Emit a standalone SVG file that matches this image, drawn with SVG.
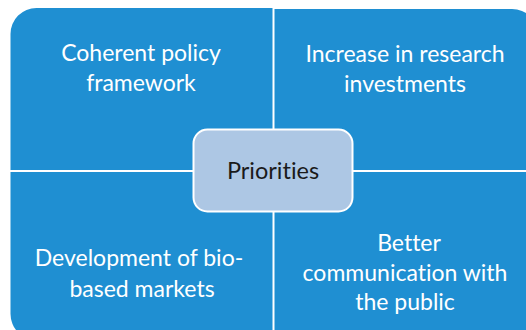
<svg xmlns="http://www.w3.org/2000/svg" width="526" height="330" viewBox="0 0 526 330">
<style>
.q{fill:#1f8fd2;}
.t{font-family:Lato,"Open Sans","DejaVu Sans",sans-serif;font-size:23px;fill:#ffffff;text-anchor:middle;font-variant-ligatures:none;font-feature-settings:"liga" 0,"clig" 0;}
.c{fill:#adc7e4;stroke:#ffffff;stroke-width:2;}
.ct{font-family:Lato,"Open Sans","DejaVu Sans",sans-serif;font-size:23.5px;fill:#1a1a1a;text-anchor:middle;font-variant-ligatures:none;font-feature-settings:"liga" 0,"clig" 0;}
</style>
<rect width="526" height="330" fill="#ffffff"/>
<g id="node-tl">
<path class="q" d="M10.5,34 A26,26 0 0 1 36.5,8 L272.5,8 L272.5,170 L10.5,170 Z"/>
<text class="t" x="141" y="61">Coherent policy</text>
<text class="t" x="141" y="91">framework</text>
</g>
<g id="node-tr">
<path class="q" d="M274.5,9 L512,9 A26,26 0 0 1 538,35 L538,170 L274.5,170 Z"/>
<text class="t" x="405" y="62">Increase in research</text>
<text class="t" x="405" y="92">investments</text>
</g>
<g id="node-bl">
<path class="q" d="M10.5,172 L272.5,172 L272.5,340 L36.5,340 A26,26 0 0 1 10.5,314 Z"/>
<text class="t" x="139" y="266">Development of bio-</text>
<text class="t" x="142" y="297">based markets</text>
</g>
<g id="node-br">
<path class="q" d="M274.5,172 L540,172 L540,340 L274.5,340 Z"/>
<text class="t" x="409" y="251">Better</text>
<text class="t" x="405" y="281">communication with</text>
<text class="t" x="405" y="310">the public</text>
</g>
<g id="connectors"></g>
<g id="node-center">
<rect class="c" x="193.5" y="129.5" width="159" height="82" rx="14" ry="14"/>
<text class="ct" x="273" y="179">Priorities</text>
</g>
</svg>
